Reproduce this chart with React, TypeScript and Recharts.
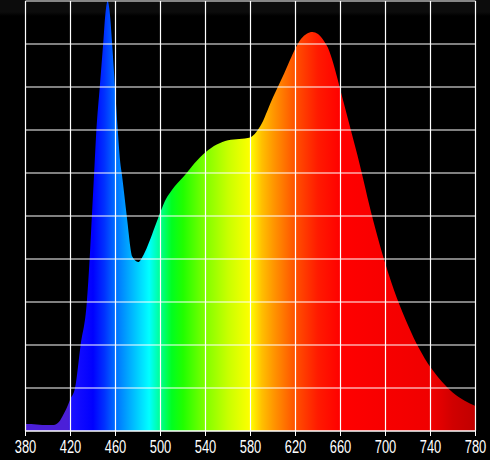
import React from "react";
import { AreaChart, Area, XAxis, YAxis, CartesianGrid } from "recharts";

// wavelength (nm) and relative intensity (grid divisions, 0..10)
const wavelengths = [
  380, 385, 390, 395, 400, 405, 410, 413, 416, 420, 424, 429, 434.5, 437, 439, 441, 443, 446, 449, 451,
  453, 455, 457, 459.5, 462, 464, 466, 470, 475, 480, 485, 490, 495, 500, 505, 510, 515, 520, 525, 530,
  535, 540, 545, 550, 555, 560, 565, 570, 575, 580, 585, 590, 595, 600, 605, 610, 615, 620, 625, 630,
  635, 640, 645, 650, 655, 660, 665, 670, 675, 680, 685, 690, 695, 700, 705, 710, 715, 720, 725, 730,
  735, 740, 745, 750, 755, 760, 765, 770, 775, 780,
];
const intensity = [
  0.16, 0.16, 0.15, 0.14, 0.14, 0.14, 0.22, 0.35, 0.5, 0.75, 1.0, 2.0, 3.0, 4.0, 5.0, 6.0, 7.0, 8.0, 9.0, 9.7,
  10.0, 9.7, 9.0, 8.0, 7.0, 6.3, 5.9, 5.0, 4.05, 3.93, 4.1, 4.4, 4.75, 5.1, 5.4, 5.6, 5.76, 5.9, 6.06, 6.22,
  6.36, 6.48, 6.58, 6.66, 6.72, 6.76, 6.78, 6.79, 6.8, 6.83, 6.95, 7.15, 7.45, 7.76, 8.04, 8.32, 8.62, 8.9, 9.12, 9.24,
  9.28, 9.23, 9.08, 8.84, 8.42, 7.92, 7.42, 6.92, 6.42, 5.88, 5.32, 4.8, 4.32, 3.88, 3.47, 3.1, 2.77, 2.46, 2.17, 1.91,
  1.68, 1.48, 1.31, 1.15, 1.01, 0.89, 0.79, 0.71, 0.64, 0.58,
];
const xTicks = [380, 420, 460, 500, 540, 580, 620, 660, 700, 740, 780];
const yTicks = [0, 1, 2, 3, 4, 5, 6, 7, 8, 9, 10];

// spectrum colours along the x axis
const colorStops: [number, string][] = [
  [380, "#4b1fd8"], [418, "#4b1fd8"], [421, "#1a10ff"], [440, "#0000ff"], [450, "#0030ff"],
  [460, "#0070ff"], [470, "#00a0ff"], [480, "#00d0ff"], [490, "#00ffff"], [500, "#00ff90"],
  [510, "#00ff20"], [520, "#20ff00"], [540, "#80ff00"], [560, "#c8ff00"], [580, "#ffff00"],
  [590, "#ffc000"], [600, "#ff9800"], [620, "#ff5000"], [640, "#ff1a00"], [660, "#ff0000"],
  [740, "#f00000"], [760, "#d00000"], [780, "#c00000"],
];

const data = wavelengths.map((wl, i) => ({ wl, v: intensity[i] }));

const Tick = ({ x, y, payload }: any) => (
  <g transform={`translate(${x},${y})`}>
    <text
      transform="scale(0.68,1)"
      y={16.5}
      textAnchor="middle"
      fill="#ffffff"
      fontSize={19}
      fontFamily="Liberation Sans, Arial, sans-serif"
    >
      {payload.value}
    </text>
  </g>
);

export default function App() {
  return (
    <div
      style={{
        position: "fixed",
        left: 0,
        top: 0,
        width: 490,
        height: 460,
        background: "linear-gradient(#0c0c0c 0px, #0c0c0c 12px, #000000 16px)",
      }}
    >
      <AreaChart
        width={490}
        height={460}
        data={data}
        margin={{ top: 1, right: 14.5, left: 25.5, bottom: 0 }}
      >
        <defs>
          <linearGradient id="spec" x1="0" y1="0" x2="1" y2="0">
            {colorStops.map(([wl, c]) => (
              <stop key={wl} offset={(wl - 380) / 400} stopColor={c} />
            ))}
          </linearGradient>
        </defs>
        <XAxis
          dataKey="wl"
          type="number"
          domain={[380, 780]}
          ticks={xTicks}
          height={29}
          tickSize={5}
          tickMargin={0}
          stroke="#ffffff"
          tickLine={{ stroke: "#ffffff" }}
          tick={<Tick />}
          interval={0}
        />
        <YAxis hide type="number" domain={[0, 10]} ticks={yTicks} />
        <Area
          type="monotone"
          dataKey="v"
          stroke="none"
          fill="url(#spec)"
          fillOpacity={1}
          isAnimationActive={false}
        />
        <CartesianGrid stroke="#ffffff" strokeWidth={1.2} zIndex={1000} />
      </AreaChart>
    </div>
  );
}
